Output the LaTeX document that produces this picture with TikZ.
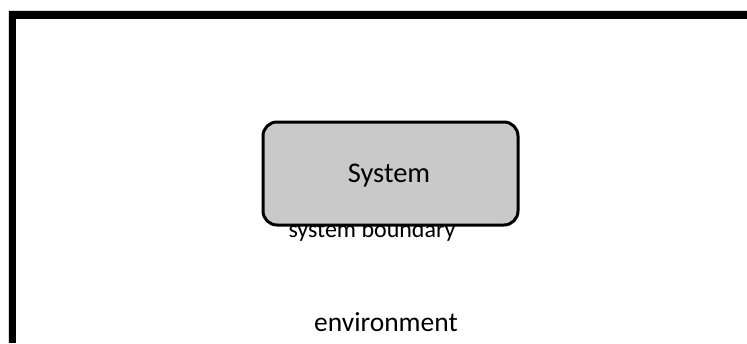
\documentclass[tikz,border=0pt]{standalone}
\usepackage{fontspec}
\setmainfont{Carlito}
\begin{document}
\begin{tikzpicture}[x=1pt,y=-1pt,
  lbl/.style={inner sep=0pt},
  sysbox/.style={draw=black, line width=3pt, rounded corners=14pt, fill=gray!42, minimum width=255pt, minimum height=103pt, inner sep=0pt},
  frame/.style={line width=7.5pt, black}]
\useasboundingbox (0,0) rectangle (747,343);
\fill[white] (0,0) rectangle (747,343);
% frame
\coordinate (tl) at (12.5,15);
\coordinate (tr) at (747,15);
\coordinate (bl) at (12.5,343);
\draw[gray!30, line width=1pt] (8,343) -- (8,10) -- (747,10);
\draw[frame] (bl) -- (tl) -- (tr);
% texts
\node[lbl, font=\fontsize{24}{28}\selectfont] (boundary) at (372,231.5) {system boundary};
\node[sysbox] (system) at (390.5,173.5) {};
\node[lbl, font=\fontsize{28.5}{32}\selectfont] (systxt) at (389,176) {System};
\node[lbl, font=\fontsize{27.5}{31}\selectfont] (env) at (386,322) {environment};
\end{tikzpicture}
\end{document}
